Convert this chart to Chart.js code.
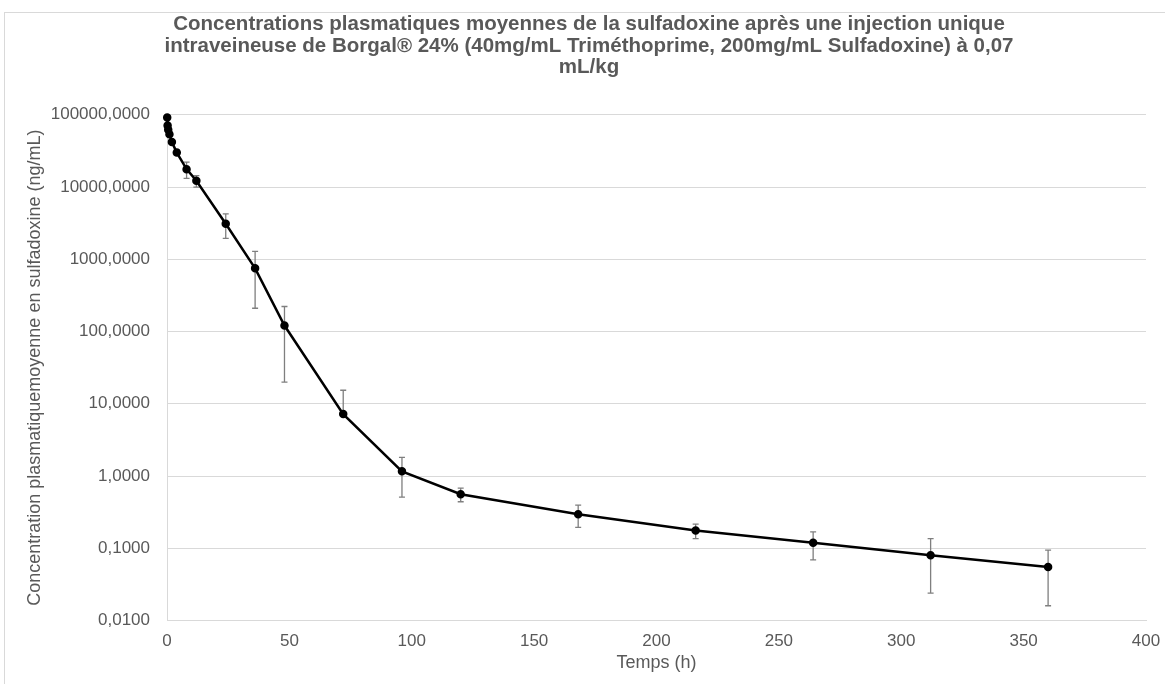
<!DOCTYPE html>
<html>
<head>
<meta charset="utf-8">
<script src="https://cdn.jsdelivr.net/npm/chart.js@4.4.1/dist/chart.umd.min.js"></script>
<style>
  html, body { margin: 0; padding: 0; background: #ffffff; overflow: hidden; }
  #wrap { position: relative; width: 1165px; height: 684px; overflow: hidden; background: #fff; }
  #frame { position: absolute; left: 4px; top: 12px; width: 1300px; height: 800px; border: 1px solid #d9d9d9; box-sizing: border-box; }
  #c { position: absolute; left: 0; top: 0; }
</style>
</head>
<body>
<div id="wrap">
  <div id="frame"></div>
  <canvas id="c" width="1165" height="684"></canvas>
</div>
<script>
// ---- Data ----
const timesH = [0.083, 0.25, 0.5, 1, 2, 4, 8, 12, 24, 36, 48, 72, 96, 120, 168, 216, 264, 312, 360];
const meanConc = [92000, 71000, 62000, 54000, 42000, 30000, 17700, 12200, 3100, 750, 121, 7.2, 1.16, 0.56, 0.295, 0.176, 0.119, 0.080, 0.055];
const sdConc = [6000, 5000, 4000, 3500, 3000, 2500, 4500, 2200, 1150, 540, 101, 8.2, 0.65, 0.12, 0.1, 0.04, 0.05, 0.056, 0.039];
const yTickValues = [0.01, 0.1, 1, 10, 100, 1000, 10000, 100000];
const yTickLabels = ['0,0100', '0,1000', '1,0000', '10,0000', '100,0000', '1000,0000', '10000,0000', '100000,0000'];
const titleLines = [
  'Concentrations plasmatiques moyennes de la sulfadoxine après une injection unique',
  'intraveineuse de Borgal® 24% (40mg/mL Triméthoprime, 200mg/mL Sulfadoxine) à 0,07',
  'mL/kg'
];
const xTitle = 'Temps (h)';
const yTitle = 'Concentration plasmatiquemoyenne en sulfadoxine (ng/mL)';

const FONT = '"Liberation Sans", Arial, Helvetica, sans-serif';
const TXT = '#595959';
const GRID = '#d9d9d9';

const points = timesH.map((t, i) => ({ x: t, y: meanConc[i] }));

const errorBarPlugin = {
  id: 'errorBars',
  beforeDatasetsDraw(chart) {
    const ctx = chart.ctx;
    const xs = chart.scales.x, ys = chart.scales.y;
    ctx.save();
    ctx.strokeStyle = '#7f7f7f';
    ctx.lineWidth = 1.3;
    const cap = 3;
    timesH.forEach((t, i) => {
      const px = xs.getPixelForValue(t);
      const pm = ys.getPixelForValue(meanConc[i]);
      const hi = meanConc[i] + sdConc[i];
      const lo = meanConc[i] - sdConc[i];
      const pHi = ys.getPixelForValue(hi);
      ctx.beginPath();
      ctx.moveTo(px, pm); ctx.lineTo(px, pHi);
      ctx.moveTo(px - cap, pHi); ctx.lineTo(px + cap, pHi);
      if (lo > 0) {
        const pLo = ys.getPixelForValue(lo);
        ctx.moveTo(px, pm); ctx.lineTo(px, pLo);
        ctx.moveTo(px - cap, pLo); ctx.lineTo(px + cap, pLo);
      }
      ctx.stroke();
    });
    ctx.restore();
  }
};

new Chart(document.getElementById('c'), {
  type: 'scatter',
  data: {
    datasets: [{
      data: points,
      showLine: true,
      borderColor: '#000000',
      backgroundColor: '#000000',
      borderWidth: 2.5,
      pointRadius: 3,
      pointHoverRadius: 3,
      pointBackgroundColor: '#000000',
      pointBorderColor: '#000000',
      tension: 0,
      clip: false
    }]
  },
  options: {
    responsive: false,
    animation: false,
    devicePixelRatio: 1,
    layout: { padding: { left: 32, right: 19, top: 0, bottom: 0 } },
    plugins: {
      legend: { display: false },
      tooltip: { enabled: false },
      title: {
        display: true,
        text: titleLines,
        color: TXT,
        font: { family: FONT, size: 20.5, weight: 'bold', lineHeight: 1.07 },
        padding: { top: 13, bottom: 36 }
      }
    },
    scales: {
      x: {
        type: 'linear',
        min: 0, max: 400,
        ticks: { stepSize: 50, color: TXT, font: { family: FONT, size: 17 }, padding: 10.5, maxRotation: 0 },
        grid: { display: false, drawTicks: false },
        border: { display: true, color: GRID, width: 1 },
        title: { display: true, text: xTitle, color: TXT, font: { family: FONT, size: 18, lineHeight: 1.2 }, padding: { top: 0, bottom: 10 } },
        afterFit(scale) { scale.height = 63.5; scale.paddingRight = 0; scale.paddingLeft = 0; }
      },
      y: {
        type: 'logarithmic',
        min: 0.01, max: 100000,
        afterBuildTicks(scale) { scale.ticks = yTickValues.map(v => ({ value: v })); },
        ticks: {
          color: TXT, font: { family: FONT, size: 17 }, padding: 17,
          callback(value) { const i = yTickValues.indexOf(value); return i >= 0 ? yTickLabels[i] : ''; }
        },
        grid: { color: GRID, lineWidth: 1, drawTicks: false },
        border: { display: true, color: GRID, width: 1 },
        title: { display: true, text: yTitle, color: TXT, font: { family: FONT, size: 18, lineHeight: 1.2 }, padding: { top: -8, bottom: 0 } },
        afterFit(scale) { scale.width = 135; }
      }
    }
  },
  plugins: [errorBarPlugin]
});
</script>
</body>
</html>
